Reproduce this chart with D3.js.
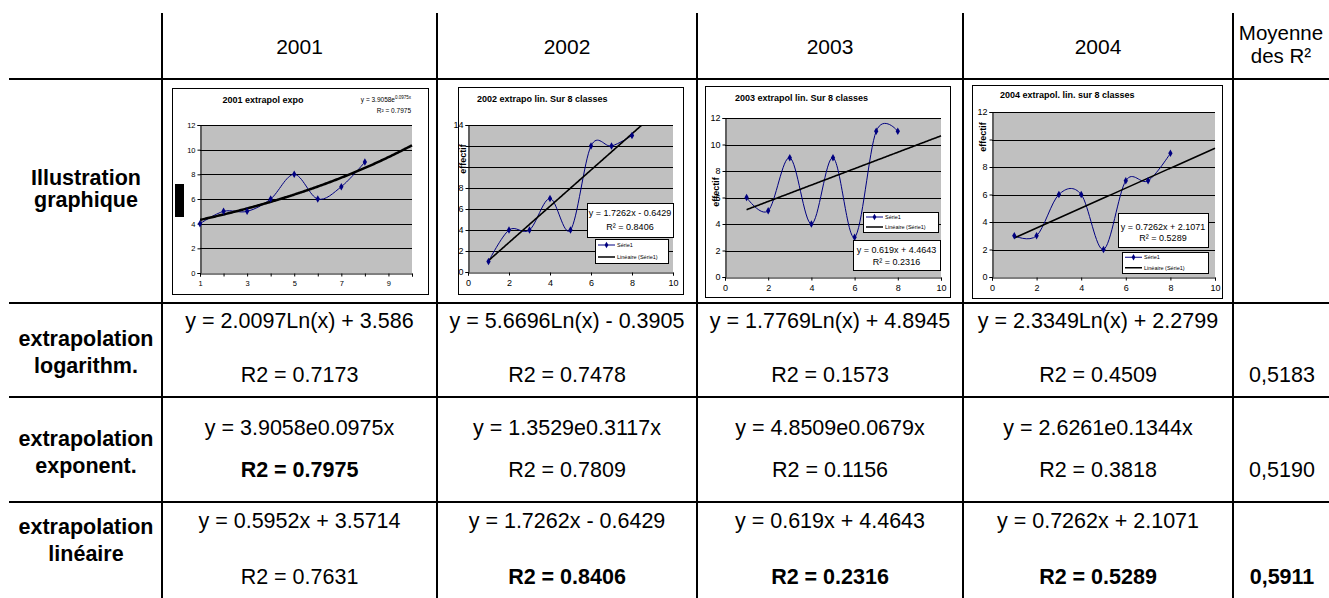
<!DOCTYPE html>
<html><head><meta charset="utf-8">
<script src="https://cdn.jsdelivr.net/npm/d3@7"></script>
<style>body{margin:0;background:#fff}svg{display:block}</style>
</head><body><svg id="c" width="1329" height="598"></svg>
<script>
// ---------------- DATA ----------------
const years = ["2001", "2002", "2003", "2004"];
const meanHeader = ["Moyenne", "des R²"];
const rowLabels = [["Illustration", "graphique"], ["extrapolation", "logarithm."], ["extrapolation", "exponent."], ["extrapolation", "linéaire"]];
const logEquations = ["y = 2.0097Ln(x) + 3.586", "y = 5.6696Ln(x) - 0.3905", "y = 1.7769Ln(x) + 4.8945", "y = 2.3349Ln(x) + 2.2799"];
const logR2 = ["R2 = 0.7173", "R2 = 0.7478", "R2 = 0.1573", "R2 = 0.4509"];
const expEquations = ["y = 3.9058e0.0975x", "y = 1.3529e0.3117x", "y = 4.8509e0.0679x", "y = 2.6261e0.1344x"];
const expR2 = ["R2 = 0.7975", "R2 = 0.7809", "R2 = 0.1156", "R2 = 0.3818"];
const linEquations = ["y = 0.5952x + 3.5714", "y = 1.7262x - 0.6429", "y = 0.619x + 4.4643", "y = 0.7262x + 2.1071"];
const linR2 = ["R2 = 0.7631", "R2 = 0.8406", "R2 = 0.2316", "R2 = 0.5289"];
const logBold = [false, false, false, false];
const expBold = [true, false, false, false];
const linBold = [false, true, true, true];
const meanR2 = ["0,5183", "0,5190", "0,5911"];
const meanBold = [false, false, true];

const classes = [1, 2, 3, 4, 5, 6, 7, 8];
const effectif2001 = [4, 5, 5, 6, 8, 6, 7, 9];
const effectif2002 = [1, 4, 4, 7, 4, 12, 12, 13];
const effectif2003 = [6, 5, 9, 4, 9, 3, 11, 11];
const effectif2004 = [3, 3, 6, 6, 2, 7, 7, 9];
const chartTitles = ["2001 extrapol expo", "2002 extrapo lin. Sur 8 classes", "2003 extrapol lin. Sur 8 classes", "2004 extrapol. lin. sur 8 classes"];
const trendType = ["exp", "lin", "lin", "lin"];
const trendA = [3.9058, 1.7262, 0.619, 0.7262];
const trendB = [0.0975, -0.6429, 4.4643, 2.1071];
const trendEqText = ["y = 3.9058e", "y = 1.7262x - 0.6429", "y = 0.619x + 4.4643", "y = 0.7262x + 2.1071"];
const trendExpSup = ["0.0975x", "", "", ""];
const trendR2Text = ["R² = 0.7975", "R² = 0.8406", "R² = 0.2316", "R² = 0.5289"];
const yMax = [12, 14, 12, 12];
const xDomains = [[1, 10], [0, 10], [0, 10], [0, 10]];
const xTickLabels = [[1, 3, 5, 7, 9], [0, 2, 4, 6, 8, 10], [0, 2, 4, 6, 8, 10], [0, 2, 4, 6, 8, 10]];
const yTickLabels = [[0, 2, 4, 6, 8, 10, 12], [0, 2, 4, 6, 8, 14], [0, 2, 4, 6, 8, 10, 12], [0, 2, 4, 6, 8, 12]];
const yAxisTitle = ["", "effectif", "effectif", "effectif"];
const legendLabels = ["Série1", "Linéaire (Série1)"];

// ---------------- LAYOUT ----------------
const W = 1329, H = 598;
const colX = [162, 437, 697, 963, 1233];
const rowY = [79, 303, 397, 502];
const FONT = "'Liberation Sans', Arial, sans-serif";
const svg = d3.select("#c");

const col = d3.scaleOrdinal().domain(years).range(years.map((d, i) => (colX[i] + colX[i + 1]) / 2));
const meanX = (colX[4] + W) / 2;
const labelX = 86;

// table lines
svg.append("g").selectAll("line").data(colX).join("line")
  .attr("x1", d => d).attr("x2", d => d).attr("y1", 13).attr("y2", H)
  .attr("stroke", "#000").attr("stroke-width", 2);
svg.append("g").selectAll("line").data(rowY).join("line")
  .attr("x1", 9).attr("x2", W).attr("y1", d => d).attr("y2", d => d)
  .attr("stroke", "#000").attr("stroke-width", 2);

function txt(x, y, s, opts = {}) {
  return svg.append("text").attr("x", x).attr("y", y).text(s)
    .attr("font-family", FONT).attr("font-size", opts.size || 21.5)
    .attr("font-weight", opts.bold ? "bold" : "normal")
    .attr("text-anchor", opts.anchor || "middle").attr("fill", "#000");
}

// header
years.forEach(y => txt(col(y), 54, y, {size: 21}));
txt(meanX, 40, meanHeader[0], {size: 20.5});
txt(meanX, 63, meanHeader[1], {size: 20.5});

// row labels
const labelBase = [[185, 207], [346, 373], [446, 473], [534, 561]];
rowLabels.forEach((l, i) => {
  txt(labelX, labelBase[i][0], l[0], {bold: true});
  txt(labelX, labelBase[i][1], l[1], {bold: true});
});

// cell texts
const rows = [
  {eq: logEquations, r2: logR2, bold: logBold, b: [328, 382]},
  {eq: expEquations, r2: expR2, bold: expBold, b: [435, 477]},
  {eq: linEquations, r2: linR2, bold: linBold, b: [528, 584]},
];
rows.forEach((r, ri) => {
  years.forEach((y, i) => {
    txt(col(y), r.b[0], r.eq[i]);
    txt(col(y), r.b[1], r.r2[i], {bold: r.bold[i]});
  });
  txt(meanX + 1, r.b[1], meanR2[ri], {bold: meanBold[ri]});
});

// ---------------- MINI CHARTS ----------------
const series = [effectif2001, effectif2002, effectif2003, effectif2004];
const layouts = [
  {box: [172, 88, 428, 294], plot: [200, 125, 412, 273], tick: 7.5, title: {x: 263, y: 103, anchor: "middle"},
   eq: {x: 411, y: 102, anchor: "end", size: 6.5, box: null, r2y: 113},
   legend: null, ytitle: null},
  {box: [458, 87, 683, 294], plot: [468, 125, 673, 272], tick: 9, title: {x: 477, y: 102, anchor: "start"},
   eq: {box: [587, 203, 673, 237], y: 216, r2y: 230, size: 9},
   legend: [595, 239, 668, 263], ytitle: {x: 466, y: 159}},
  {box: [705, 86, 950, 297], plot: [725, 118, 941, 277], tick: 9, title: {x: 735, y: 101, anchor: "start"},
   eq: {box: [853, 240, 940, 270], y: 253, r2y: 265, size: 9},
   legend: [863, 212, 938, 232], ytitle: {x: 719, y: 192}},
  {box: [972, 85, 1222, 298], plot: [992, 112, 1215, 277], tick: 9, title: {x: 1000, y: 98, anchor: "start"},
   eq: {box: [1118, 213, 1208, 247], y: 230, r2y: 241, size: 9},
   legend: [1122, 252, 1208, 273], ytitle: {x: 986, y: 137}},
];
const navy = "#000080";

layouts.forEach((L, ci) => {
  const g = svg.append("g");
  const [bx0, by0, bx1, by1] = L.box;
  const [px0, py0, px1, py1] = L.plot;
  g.append("rect").attr("x", bx0 + 0.5).attr("y", by0 + 0.5).attr("width", bx1 - bx0).attr("height", by1 - by0)
    .attr("fill", "#fff").attr("stroke", "#000").attr("stroke-width", 1);
  const x = d3.scaleLinear().domain(xDomains[ci]).range([px0, px1]);
  const y = d3.scaleLinear().domain([0, yMax[ci]]).range([py1, py0]);
  g.append("rect").attr("x", px0).attr("y", py0).attr("width", px1 - px0).attr("height", py1 - py0).attr("fill", "#c0c0c0");
  // gridlines
  const yt = d3.range(2, yMax[ci] + 1, 2);
  g.append("g").selectAll("line").data(yt).join("line")
    .attr("x1", px0).attr("x2", px1).attr("y1", d => Math.round(y(d)) + 0.5).attr("y2", d => Math.round(y(d)) + 0.5)
    .attr("stroke", "#000").attr("stroke-width", 1);
  // axes
  const ya = d3.axisLeft(y).tickValues(d3.range(0, yMax[ci] + 1, 2)).tickSize(3)
    .tickFormat(d => yTickLabels[ci].includes(d) ? d : "");
  const ax = g.append("g").attr("transform", `translate(${px0 + 0.5},0)`).call(ya);
  const xa = d3.axisBottom(x).tickValues(d3.range(xDomains[ci][0], xDomains[ci][1] + 1, ci === 0 ? 1 : 2)).tickSize(3)
    .tickFormat(d => xTickLabels[ci].includes(d) ? d : "");
  const bx = g.append("g").attr("transform", `translate(0,${py1 + 0.5})`).call(xa);
  [ax, bx].forEach(a => {
    a.select(".domain").attr("stroke", "#000");
    a.selectAll("line").attr("stroke", "#000");
    a.selectAll("text").attr("font-family", FONT).attr("font-size", L.tick).attr("fill", "#000");
  });
  ax.selectAll("text").attr("x", -5);
  bx.selectAll("text").attr("y", 7);
  // clip
  const cid = "clip" + ci;
  svg.append("clipPath").attr("id", cid).append("rect").attr("x", px0).attr("y", py0).attr("width", px1 - px0 + 2).attr("height", py1 - py0);
  // trend
  const tx = d3.range(1, 10.001, 0.05);
  const f = trendType[ci] === "exp" ? (v => trendA[ci] * Math.exp(trendB[ci] * v)) : (v => trendA[ci] * v + trendB[ci]);
  // series
  const pts = classes.map((c, i) => [c, series[ci][i]]);
  g.append("path").datum(pts).attr("clip-path", `url(#${cid})`)
    .attr("d", d3.line().x(d => x(d[0])).y(d => y(d[1])).curve(d3.curveCatmullRom.alpha(0)))
    .attr("fill", "none").attr("stroke", navy).attr("stroke-width", 1);
  g.append("path").datum(tx).attr("clip-path", `url(#${cid})`)
    .attr("d", d3.line().x(d => x(d)).y(d => y(f(d))))
    .attr("fill", "none").attr("stroke", "#000").attr("stroke-width", ci === 0 ? 2.5 : 1.6);
  g.append("g").selectAll("path").data(pts).join("path")
    .attr("transform", d => `translate(${x(d[0])},${y(d[1])})`)
    .attr("d", d3.symbol(d3.symbolDiamond, 16)).attr("fill", navy);
  // title
  g.append("text").attr("x", L.title.x).attr("y", L.title.y).attr("text-anchor", L.title.anchor)
    .attr("font-family", FONT).attr("font-weight", "bold").attr("font-size", 9).text(chartTitles[ci]);
  // equation
  const E = L.eq;
  if (E.box) {
    g.append("rect").attr("x", E.box[0] + 0.5).attr("y", E.box[1] + 0.5).attr("width", E.box[2] - E.box[0]).attr("height", E.box[3] - E.box[1])
      .attr("fill", "#fff").attr("stroke", "#000");
    const cx = (E.box[0] + E.box[2]) / 2;
    g.append("text").attr("x", cx).attr("y", E.y).attr("text-anchor", "middle").attr("font-family", FONT).attr("font-size", E.size).text(trendEqText[ci]);
    g.append("text").attr("x", cx).attr("y", E.r2y).attr("text-anchor", "middle").attr("font-family", FONT).attr("font-size", E.size).text(trendR2Text[ci]);
  } else {
    const t = g.append("text").attr("x", E.x).attr("y", E.y).attr("text-anchor", "end").attr("font-family", FONT).attr("font-size", E.size);
    t.append("tspan").text(trendEqText[ci]);
    t.append("tspan").attr("font-size", 4.5).attr("dy", -3).text(trendExpSup[ci]);
    g.append("text").attr("x", E.x).attr("y", E.r2y).attr("text-anchor", "end").attr("font-family", FONT).attr("font-size", E.size).text(trendR2Text[ci]);
  }
  // legend
  if (L.legend) {
    const [lx0, ly0, lx1, ly1] = L.legend;
    g.append("rect").attr("x", lx0 + 0.5).attr("y", ly0 + 0.5).attr("width", lx1 - lx0).attr("height", ly1 - ly0)
      .attr("fill", "#fff").attr("stroke", "#000");
    const rh = (ly1 - ly0) / 2;
    legendLabels.forEach((lab, i) => {
      const yy = ly0 + rh * (i + 0.5);
      g.append("line").attr("x1", lx0 + 3).attr("x2", lx0 + 20).attr("y1", yy).attr("y2", yy)
        .attr("stroke", i === 0 ? navy : "#000").attr("stroke-width", i === 0 ? 1 : 1.5);
      if (i === 0) g.append("path").attr("transform", `translate(${lx0 + 11.5},${yy})`).attr("d", d3.symbol(d3.symbolDiamond, 12)).attr("fill", navy);
      g.append("text").attr("x", lx0 + 22).attr("y", yy + 2).attr("font-family", FONT).attr("font-size", 5.5).text(lab);
    });
  }
  if (L.ytitle) {
    g.append("text").attr("transform", `translate(${L.ytitle.x},${L.ytitle.y}) rotate(-90)`)
      .attr("text-anchor", "middle").attr("font-family", FONT).attr("font-weight", "bold").attr("font-size", 9).text(yAxisTitle[ci]);
  }
});
// 2001 axis title rendered as a solid block in the reference
svg.append("rect").attr("x", 175).attr("y", 184).attr("width", 9).attr("height", 33).attr("fill", "#000");
</script>
</body></html>
